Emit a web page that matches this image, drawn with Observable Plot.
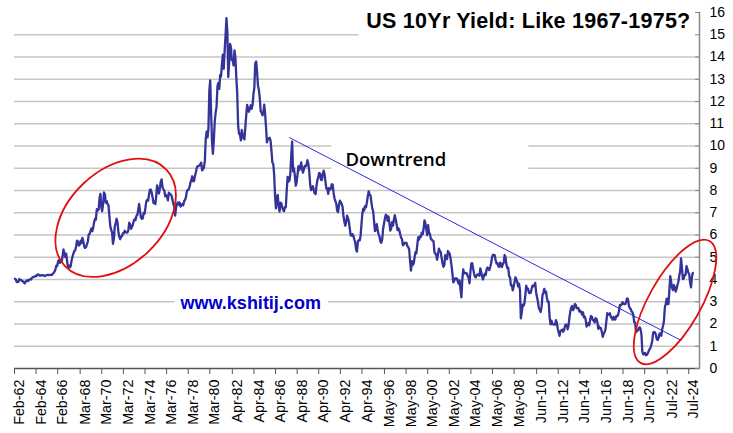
<!DOCTYPE html>
<html><head><meta charset="utf-8">
<script src="https://cdn.jsdelivr.net/npm/d3@7"></script>
<script src="https://cdn.jsdelivr.net/npm/@observablehq/plot@0.6"></script>
<style>
html,body{margin:0;padding:0;background:#fff;}
#chart{width:733px;height:433px;overflow:hidden;}
</style></head><body><div id="chart"></div>
<script>
// ---------- data ----------
const startYear = 1962, startMonthIndex = 1; // first value = Feb 1962
const monthlyYield = [
/*1962*/ 4.04,4.01,3.89,3.88,3.90,4.02,3.98,3.98,3.93,3.92,3.86,
/*1963*/ 3.83,3.92,3.93,3.97,3.93,3.99,4.02,4.00,4.08,4.11,4.12,4.13,
/*1964*/ 4.17,4.15,4.22,4.23,4.20,4.17,4.19,4.19,4.20,4.19,4.15,4.18,
/*1965*/ 4.19,4.21,4.21,4.20,4.21,4.21,4.20,4.25,4.29,4.35,4.45,4.62,
/*1966*/ 4.61,4.83,4.87,4.75,4.78,4.81,5.02,5.35,5.18,5.01,5.16,4.84,
/*1967*/ 4.52,4.63,4.54,4.59,4.85,5.02,5.16,5.28,5.30,5.48,5.75,5.70,
/*1968*/ 5.53,5.56,5.74,5.64,5.87,5.72,5.50,5.42,5.46,5.58,5.70,6.03,
/*1969*/ 6.04,6.19,6.30,6.17,6.32,6.57,6.72,6.69,7.16,7.10,7.14,7.65,
/*1970*/ 7.85,7.24,7.07,7.39,7.91,7.84,7.46,7.53,7.39,7.33,6.84,6.39,
/*1971*/ 6.24,6.11,5.60,5.83,6.39,6.52,6.73,6.58,6.14,5.93,5.81,5.93,
/*1972*/ 5.95,6.08,6.07,6.19,6.13,6.11,6.11,6.21,6.55,6.48,6.28,6.36,
/*1973*/ 6.46,6.64,6.71,6.67,6.85,6.90,7.13,7.40,7.09,6.79,6.73,6.74,
/*1974*/ 6.99,6.96,7.21,7.51,7.58,7.54,7.81,8.04,8.04,7.90,7.68,7.43,
/*1975*/ 7.50,7.39,7.73,8.23,8.06,7.86,8.06,8.40,8.50,8.14,8.05,8.00,
/*1976*/ 7.74,7.79,7.73,7.56,7.90,7.86,7.83,7.77,7.59,7.41,7.29,6.87,
/*1977*/ 7.21,7.39,7.46,7.37,7.46,7.28,7.33,7.40,7.34,7.52,7.58,7.69,
/*1978*/ 7.96,8.03,8.04,8.15,8.35,8.46,8.64,8.41,8.42,8.64,8.81,9.01,
/*1979*/ 9.10,9.10,9.12,9.18,9.25,8.91,8.95,9.03,9.33,10.30,10.65,10.39,
/*1980*/ 10.80,12.50,12.95,11.47,10.18,9.65,10.25,11.10,11.51,11.75,12.68,12.84,
/*1981*/ 12.57,13.19,13.12,13.68,14.10,13.47,14.28,14.94,15.75,15.15,13.10,13.72,
/*1982*/ 14.59,14.43,13.86,13.87,13.62,14.30,13.95,13.06,12.34,10.91,10.55,10.54,
/*1983*/ 10.25,10.72,10.51,10.35,10.30,10.85,11.38,11.85,11.65,11.54,11.69,11.83,
/*1984*/ 11.67,11.84,12.32,12.63,13.70,13.80,13.36,12.72,12.52,12.16,11.57,11.50,
/*1985*/ 11.38,11.51,11.86,11.43,10.85,10.16,10.31,10.33,10.37,10.24,9.78,9.26,
/*1986*/ 9.19,8.70,7.78,7.20,7.71,7.80,7.30,7.05,7.45,7.43,7.25,7.11,
/*1987*/ 7.08,7.25,7.25,8.02,8.61,8.40,8.45,8.76,9.60,10.20,8.86,8.99,
/*1988*/ 8.67,8.21,8.37,8.72,9.09,8.92,9.06,9.26,8.98,8.80,8.96,9.11,
/*1989*/ 9.09,9.17,9.36,9.18,8.86,8.28,8.02,8.11,8.19,8.01,7.87,7.84,
/*1990*/ 8.21,8.47,8.59,8.79,8.76,8.48,8.47,8.75,8.89,8.72,8.39,8.08,
/*1991*/ 8.09,7.85,8.11,8.04,8.07,8.28,8.27,7.90,7.65,7.53,7.42,7.09,
/*1992*/ 7.03,7.34,7.54,7.48,7.39,7.26,6.84,6.59,6.42,6.59,6.87,6.77,
/*1993*/ 6.60,6.26,5.98,5.97,6.04,5.96,5.81,5.68,5.36,5.25,5.72,5.77,
/*1994*/ 5.75,5.97,6.48,6.97,7.18,7.10,7.30,7.24,7.46,7.74,7.96,7.81,
/*1995*/ 7.78,7.47,7.20,7.06,6.63,6.17,6.28,6.49,6.20,6.04,5.93,5.71,
/*1996*/ 5.65,5.81,6.27,6.51,6.74,6.91,6.87,6.64,6.83,6.53,6.20,6.30,
/*1997*/ 6.58,6.42,6.69,6.89,6.71,6.49,6.22,6.30,6.21,6.03,5.88,5.81,
/*1998*/ 5.54,5.57,5.65,5.64,5.65,5.50,5.46,5.34,4.81,4.40,4.83,4.65,
/*1999*/ 4.72,5.00,5.23,5.18,5.54,5.90,5.79,5.94,5.92,6.11,6.03,6.28,
/*2000*/ 6.66,6.52,6.26,5.99,6.44,6.10,6.05,5.83,5.80,5.74,5.72,5.24,
/*2001*/ 5.16,5.10,4.89,5.14,5.39,5.28,5.24,4.97,4.73,4.57,4.65,5.09,
/*2002*/ 5.04,4.91,5.28,5.21,5.16,4.93,4.65,4.26,3.87,3.94,4.05,4.03,
/*2003*/ 4.05,3.90,3.81,3.96,3.57,3.20,3.98,4.45,4.27,4.29,4.30,4.27,
/*2004*/ 4.15,4.08,3.83,4.35,4.72,4.73,4.50,4.28,4.13,4.10,4.19,4.23,
/*2005*/ 4.22,4.17,4.50,4.34,4.14,4.00,4.18,4.26,4.20,4.46,4.54,4.47,
/*2006*/ 4.42,4.57,4.72,4.99,5.11,5.11,5.09,4.88,4.72,4.73,4.60,4.56,
/*2007*/ 4.76,4.72,4.56,4.69,4.75,5.10,5.00,4.67,4.52,4.53,4.15,4.10,
/*2008*/ 3.74,3.74,3.51,3.68,3.88,4.10,4.01,3.89,3.69,3.81,3.53,2.25,
/*2009*/ 2.52,2.87,2.82,2.93,3.29,3.72,3.56,3.59,3.40,3.39,3.40,3.59,
/*2010*/ 3.73,3.69,3.73,3.85,3.42,3.20,3.01,2.70,2.65,2.54,2.76,3.29,
/*2011*/ 3.39,3.58,3.41,3.46,3.17,3.00,3.00,2.30,1.98,2.15,2.01,1.98,
/*2012*/ 1.97,1.97,2.17,2.05,1.80,1.62,1.47,1.68,1.72,1.75,1.65,1.72,
/*2013*/ 1.91,1.98,1.96,1.76,1.93,2.30,2.58,2.74,2.81,2.62,2.72,2.90,
/*2014*/ 2.86,2.71,2.72,2.71,2.56,2.60,2.54,2.42,2.53,2.30,2.33,2.21,
/*2015*/ 1.88,1.98,2.04,1.94,2.20,2.36,2.32,2.17,2.17,2.07,2.26,2.24,
/*2016*/ 2.09,1.78,1.89,1.81,1.81,1.64,1.42,1.56,1.63,1.76,2.14,2.49,
/*2017*/ 2.43,2.42,2.48,2.30,2.30,2.19,2.32,2.21,2.20,2.36,2.35,2.40,
/*2018*/ 2.58,2.86,2.84,2.87,2.98,2.91,2.89,2.89,3.00,3.15,3.12,2.83,
/*2019*/ 2.71,2.68,2.57,2.53,2.40,2.07,2.06,1.63,1.70,1.71,1.81,1.86,
/*2020*/ 1.76,1.50,0.75,0.63,0.66,0.70,0.59,0.62,0.68,0.79,0.87,0.93,
/*2021*/ 1.08,1.26,1.61,1.64,1.62,1.52,1.32,1.28,1.37,1.58,1.56,1.47,
/*2022*/ 1.76,1.93,2.13,2.75,2.90,3.14,2.90,2.90,3.52,4.15,3.89,3.62,
/*2023*/ 3.53,3.75,3.66,3.46,3.57,3.75,3.90,4.17,4.38,4.95,4.50,4.02,
/*2024*/ 4.06,4.21,4.21,4.60,4.48,4.31,4.25,3.87,3.65,4.10,4.30
];
const xTickLabels = ["Feb-62","Feb-64","Feb-66","Mar-68","Mar-70","Mar-72","Mar-74","Mar-76","Mar-78","Mar-80",
  "Apr-82","Apr-84","Apr-86","Apr-88","Apr-90","Apr-92","Apr-94","May-96","May-98","May-00","May-02","May-04",
  "May-06","May-08","Jun-10","Jun-12","Jun-14","Jun-16","Jun-18","Jun-20","Jul-22","Jul-24"];
const yTickValues = [0,1,2,3,4,5,6,7,8,9,10,11,12,13,14,15,16];
const gridValues = [1,2,3,4,5,6,7,8,9,10,11,12,13,14,15];
const trendDates = ["1987-07-26","2023-10-19"];
const trendValues = [10.37, 1.26];
const ellipseDates = ["1971-07-01","2023-04-10"];
const ellipseValues = [6.75, 2.97];
const titleText = "US 10Yr Yield: Like 1967-1975?";
const trendLabel = "Downtrend";
const trendLabelDate = "1992-09-20", trendLabelValue = 9.38;
const siteLabel = "www.kshitij.com";
const siteLabelDate = "1977-06-15", siteLabelValue = 2.92;

// ---------- build ----------
const monthNames = ["Jan","Feb","Mar","Apr","May","Jun","Jul","Aug","Sep","Oct","Nov","Dec"];
const parseLabel = s => { const [m, y] = s.split("-"); const yy = +y; return new Date(Date.UTC(yy >= 50 ? 1900 + yy : 2000 + yy, monthNames.indexOf(m), 1)); };
const tickDates = xTickLabels.map(parseLabel);
const series = monthlyYield.map((v, i) => ({date: new Date(Date.UTC(startYear, startMonthIndex + i, 15)), value: v}));
const trend = trendDates.map((d, i) => ({date: new Date(d), value: trendValues[i]}));

const FONT = "'Liberation Sans', Arial, Helvetica, sans-serif";
const chart = Plot.plot({
  width: 733, height: 433,
  marginLeft: 14, marginRight: 34, marginTop: 12, marginBottom: 65,
  style: {fontFamily: FONT, background: "#fff", color: "#000"},
  x: {type: "utc", domain: [new Date(Date.UTC(1962, 1, 1)), new Date(Date.UTC(2025, 5, 29))]},
  y: {domain: [0, 16]},
  marks: [
    Plot.gridY(gridValues, {stroke: "#c6c6c6", strokeOpacity: 1, strokeWidth: 1.5}),
    Plot.line(series, {x: "date", y: "value", stroke: "#333399", strokeWidth: 2.3, strokeLinejoin: "round"}),
    Plot.line(trend, {x: "date", y: "value", stroke: "#2b2bdd", strokeWidth: 1}),
    Plot.ruleY([0], {stroke: "#555", strokeWidth: 1.5}),
    Plot.frame({anchor: "right", stroke: "#888", strokeWidth: 1.5}),
    Plot.axisX({ticks: tickDates, tickSize: 6, fill: "none", stroke: "#555", label: null}),
    Plot.axisX({ticks: tickDates, tickSize: 0, tickPadding: 11, tickRotate: -90, dx: 5,
      tickFormat: (d, i) => xTickLabels[i], fontSize: 14.3, fill: "#000", label: null}),
    Plot.axisY({anchor: "right", ticks: yTickValues, tickSize: 5, dx: -5, fill: "none", stroke: "#888", label: null}),
    Plot.axisY({anchor: "right", ticks: yTickValues, tickSize: 0, tickPadding: 10, fontSize: 14, fill: "#000", label: null}),
    Plot.text([titleText], {frameAnchor: "top-right", textAnchor: "end", lineAnchor: "middle", dx: -9, dy: 8.5,
      fontSize: 21.5, fontWeight: "bold", fill: "#000"}),
    Plot.text([{date: new Date(trendLabelDate), value: trendLabelValue, label: trendLabel}],
      {x: "date", y: "value", text: "label", textAnchor: "start", fontSize: 18.5, fontWeight: 600,
       fontFamily: "'Open Sans', 'Noto Sans', sans-serif", fill: "#000"}),
    Plot.text([{date: new Date(siteLabelDate), value: siteLabelValue, label: siteLabel}],
      {x: "date", y: "value", text: "label", textAnchor: "start", fontSize: 18, fontWeight: "bold", fill: "#0000cc"})
  ]
});
document.getElementById("chart").append(chart);

// widen the title slightly to match the reference's letter spacing
const titleEl = Array.from(chart.querySelectorAll("text")).find(e => e.textContent === titleText);
if (titleEl) titleEl.setAttribute("letter-spacing", "0.25");

// white boxes behind the annotation texts (they interrupt the gridlines)
const ns = "http://www.w3.org/2000/svg";
const svgRect = chart.getBoundingClientRect();
const grid = chart.querySelector('g[aria-label="y-grid"]');
const pads = [
  [titleText, 8, 8, 2, 4],
  [trendLabel, 14, 82, 4, 3],
  [siteLabel, 5, 7, 1, 1]
];
let anchor = grid;
for (const [txt, pl, pr, pt, pb] of pads) {
  const t = Array.from(chart.querySelectorAll("text")).find(e => e.textContent === txt);
  if (!t) continue;
  const b = t.getBoundingClientRect();
  const r = document.createElementNS(ns, "rect");
  r.setAttribute("x", b.left - svgRect.left - pl);
  r.setAttribute("y", b.top - svgRect.top - pt);
  r.setAttribute("width", b.width + pl + pr);
  r.setAttribute("height", b.height + pt + pb);
  r.setAttribute("fill", "#fff");
  anchor.after(r);
  anchor = r;
}

// red ellipses around the two highlighted periods
const xs = chart.scale("x"), ys = chart.scale("y");
const ellipseStyle = [[70, 47, -43.6], [70, 26, -60.5]];
ellipseDates.forEach((d, i) => {
  const cx = xs.apply(new Date(d)), cy = ys.apply(ellipseValues[i]);
  const [rx, ry, rot] = ellipseStyle[i];
  const e = document.createElementNS(ns, "ellipse");
  e.setAttribute("cx", cx); e.setAttribute("cy", cy);
  e.setAttribute("rx", rx); e.setAttribute("ry", ry);
  e.setAttribute("transform", `rotate(${rot} ${cx} ${cy})`);
  e.setAttribute("fill", "none"); e.setAttribute("stroke", "#e01010"); e.setAttribute("stroke-width", 1.8);
  chart.appendChild(e);
});
</script></body></html>
